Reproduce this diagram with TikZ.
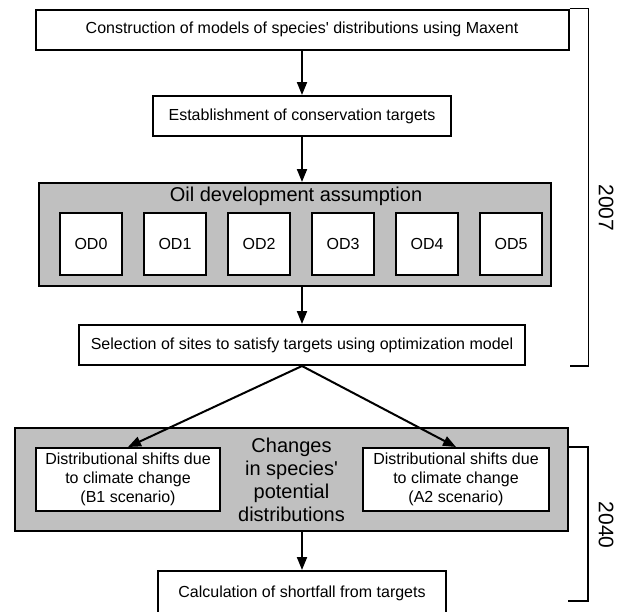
\documentclass[tikz,border=0pt]{standalone}
\usepackage{fontspec}
\setmainfont{Liberation Sans}
\usetikzlibrary{arrows.meta, positioning}
\definecolor{panelgray}{HTML}{C0C0C0}

\begin{document}
\begin{tikzpicture}[
    x=1pt, y=-1pt,
    node distance = 20pt,
    box/.style = {rectangle, draw=black, line width=2pt, fill=white,
                  minimum height=40pt, inner sep=0pt, align=center,
                  font=\fontsize{16}{19}\selectfont},
    panel/.style = {rectangle, draw=black, line width=2pt, fill=panelgray,
                    minimum height=103pt, inner sep=0pt},
    odbox/.style = {box, minimum width=62pt, minimum height=62pt},
    title/.style = {inner sep=0pt, align=center, font=\fontsize{20}{23}\selectfont},
    arrow/.style = {-{Triangle[length=13pt,width=10pt]}, line width=2pt},
    bracket/.style = {line width=1.6pt},
    year/.style = {rotate=-90, inner sep=0pt, font=\fontsize{21}{24}\selectfont}
  ]
  \useasboundingbox (0,0) rectangle (624,611);

  % 2007 steps
  \node[box, minimum width=533pt] (maxent) at (302,29.5)
    {Construction of models of species\textquotesingle{} distributions using Maxent};
  \node[box, minimum width=298pt] (targets) at (302,116)
    {Establishment of conservation targets};
  \node[panel, minimum width=512pt] (oil) at (295,234.5) {};
  \node[title] (oiltitle) at (296,196) {Oil development assumption};
  \node[odbox] (od0) at (91,244) {OD0};
  \foreach \i [remember=\i as \prev (initially 0)] in {1,...,5}
    \node[odbox, right=of od\prev] (od\i) {OD\i};
  \node[box, minimum width=446pt] (sites) at (302,345)
    {Selection of sites to satisfy targets using optimization model};

  % 2040 steps
  \node[panel, minimum width=553pt] (changes) at (291.5,479.5) {};
  \node[box, minimum width=184pt, minimum height=63pt] (b1) at (128,479.5)
    {Distributional shifts due\\to climate change\\(B1 scenario)};
  \node[box, minimum width=186pt, minimum height=63pt] (a2) at (456,479.5)
    {Distributional shifts due\\to climate change\\(A2 scenario)};
  \node[title] (chtext) at (291.5,480)
    {Changes\\in species\textquotesingle\\potential\\distributions};
  \node[box, minimum width=288pt, minimum height=44pt] (shortfall) at (302,593)
    {Calculation of shortfall from targets};

  \draw[arrow] (maxent) -- (targets);
  \draw[arrow] (targets) -- (targets |- oil.north);
  \draw[arrow] (oil.south -| sites) -- (sites);
  \draw[arrow] (sites.south) -- (b1.north);
  \draw[arrow] (sites.south) -- (a2.north);
  \draw[arrow] (changes.south -| shortfall) -- (shortfall);

  % year brackets
  \draw[bracket] (maxent.north east) -- ++(19,0) |- (sites.south -| maxent.east);
  \node[year] (y2007) at (606,208) {2007};
  \coordinate (end40) at (568,601);
  \draw[bracket] (b1.north -| changes.east) -- ++(19,0) |- (end40);
  \node[year] (y2040) at (606,525) {2040};
\end{tikzpicture}
\end{document}
